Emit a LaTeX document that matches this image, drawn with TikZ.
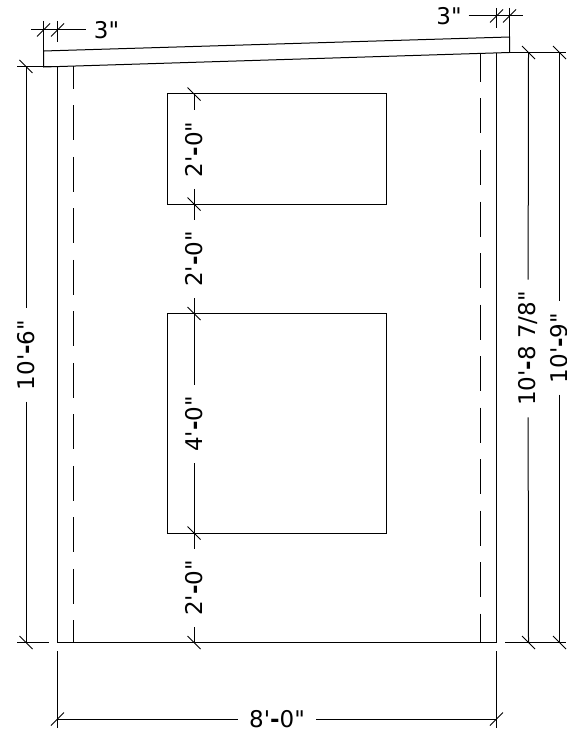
\documentclass[tikz,border=0pt]{standalone}
\usepackage{fontspec}
\newfontfamily\dimfont{DejaVu Sans}
\newcommand{\dimhyph}{{\bfseries-}}
\tikzset{wall/.style={line width=1pt},
dashline/.style={line width=1pt,dash pattern=on 35pt off 16.5pt},
dimtext/.style={font=\dimfont\fontsize{23}{23}\selectfont,inner xsep=11.5pt,inner ysep=0pt,outer sep=0pt},
vdim/.style={dimtext,rotate=90}}
\newcommand{\backtick}[1]{\draw[wall] ([shift={(-6.5,-6.5)}]#1) -- ([shift={(6.5,6.5)}]#1);}
\newcommand{\fwdtick}[1]{\draw[wall] ([shift={(-6.5,6.5)}]#1) -- ([shift={(6.5,-6.5)}]#1);}
\begin{document}
\begin{tikzpicture}[x=1pt,y=-1pt]
\useasboundingbox (0,0) rectangle (566,730);
\coordinate (rooftl) at (43.5,51); \coordinate (rooftr) at (509.5,37);
\coordinate (roofbl) at (43.5,67); \coordinate (roofbr) at (509.5,52.5);
\coordinate (walltl) at (57.5,66.5); \coordinate (walltr) at (496.5,53);
\coordinate (wallbl) at (57.5,642.5); \coordinate (wallbr) at (496.5,642.5);
\draw[wall] (rooftl) -- (rooftr) -- (roofbr) -- (roofbl) -- cycle;
\draw[wall] (walltl) -- (wallbl) -- (wallbr) -- (walltr);
\draw[dashline,dash phase=12.7pt] (73,66.5) -- (73,642.5);
\draw[dashline,dash phase=6pt] (480.5,53) -- (480.5,642.5);
\draw[wall] (167,94) rectangle (386,204);
\draw[wall] (167,313.5) rectangle (386,533);
\coordinate (cdim0) at (194,94); \coordinate (cdim1) at (194,204);
\coordinate (cdim2) at (194,313.5); \coordinate (cdim3) at (194,533);
\coordinate (cdim4) at (194,642.5);
\node[vdim] (lab1) at (194,149.5) {2'\dimhyph0"};
\node[vdim] (lab2) at (194,259) {2'\dimhyph0"};
\node[vdim] (lab3) at (194,424) {4'\dimhyph0"};
\node[vdim] (lab4) at (194,588) {2'\dimhyph0"};
\draw[wall] (cdim0) -- (lab1) -- (lab2) -- (lab3) -- (lab4) -- (cdim4);
\coordinate (ldim0) at (26,66.5); \coordinate (ldim1) at (26,642.5);
\node[vdim] (lableft) at (26,355) {10'\dimhyph6"};
\draw[wall] (ldim0) -- (lableft) -- (ldim1);
\coordinate (lext0) at (17,66.5); \coordinate (lext1) at (17,642.5);
\coordinate (lext2) at (49,642.5);
\draw[wall] (lext0) -- (walltl);
\draw[wall] (lext1) -- (lext2);
\coordinate (rdim0) at (528.5,52.5); \coordinate (rdim1) at (528.5,642.5);
\coordinate (sdim0) at (559.5,52.5); \coordinate (sdim1) at (559.5,642.5);
\node[vdim] (labmid) at (528,348.5) {10'\dimhyph8 7/8"};
\node[vdim] (labside) at (559.5,348) {10'\dimhyph9"};
\draw[wall] (rdim0) -- (labmid) -- (rdim1);
\draw[wall] (sdim0) -- (labside) -- (sdim1);
\coordinate (rext0) at (505,52.5); \coordinate (rext1) at (566,52.5);
\coordinate (rext2) at (505,642.5); \coordinate (rext3) at (566,642.5);
\draw[wall] (rext0) -- (rext1);
\draw[wall] (rext2) -- (rext3);
\coordinate (bdim0) at (57.5,719); \coordinate (bdim1) at (496.5,719);
\node[dimtext] (labbot) at (277,719) {8'\dimhyph0"};
\draw[wall] (bdim0) -- (labbot) -- (bdim1);
\coordinate (bext0) at (57.5,651); \coordinate (bext1) at (57.5,728);
\coordinate (bext2) at (496.5,651); \coordinate (bext3) at (496.5,728);
\draw[wall] (bext0) -- (bext1);
\draw[wall] (bext2) -- (bext3);
\coordinate (tldim0) at (43.5,30); \coordinate (tldim1) at (57.5,30);
\coordinate (tlend) at (31,30); \coordinate (tlext0) at (43.5,21);
\coordinate (tlext1) at (57.5,21); \coordinate (tlext2) at (57.5,42);
\node[dimtext,inner xsep=8pt] (labtl) at (106.5,30) {3"};
\draw[wall] (tlend) -- (labtl);
\draw[wall] (tlext0) -- (rooftl);
\draw[wall] (tlext1) -- (tlext2);
\coordinate (trdim0) at (496.5,16); \coordinate (trdim1) at (509.5,16);
\coordinate (trend) at (523,16); \coordinate (trext0) at (496.5,8);
\coordinate (trext1) at (496.5,28); \coordinate (trext2) at (509.5,8);
\node[dimtext,inner xsep=7pt] (labtr) at (449,16) {3"};
\draw[wall] (labtr) -- (trend);
\draw[wall] (trext0) -- (trext1);
\draw[wall] (trext2) -- (rooftr);
\foreach \c in {cdim0,cdim1,cdim2,cdim3,cdim4,ldim0,ldim1,rdim0,rdim1,sdim0,sdim1}
  {\backtick{\c}}
\foreach \c in {bdim0,bdim1,tldim0,tldim1,trdim0,trdim1}
  {\fwdtick{\c}}
\end{tikzpicture}
\end{document}
